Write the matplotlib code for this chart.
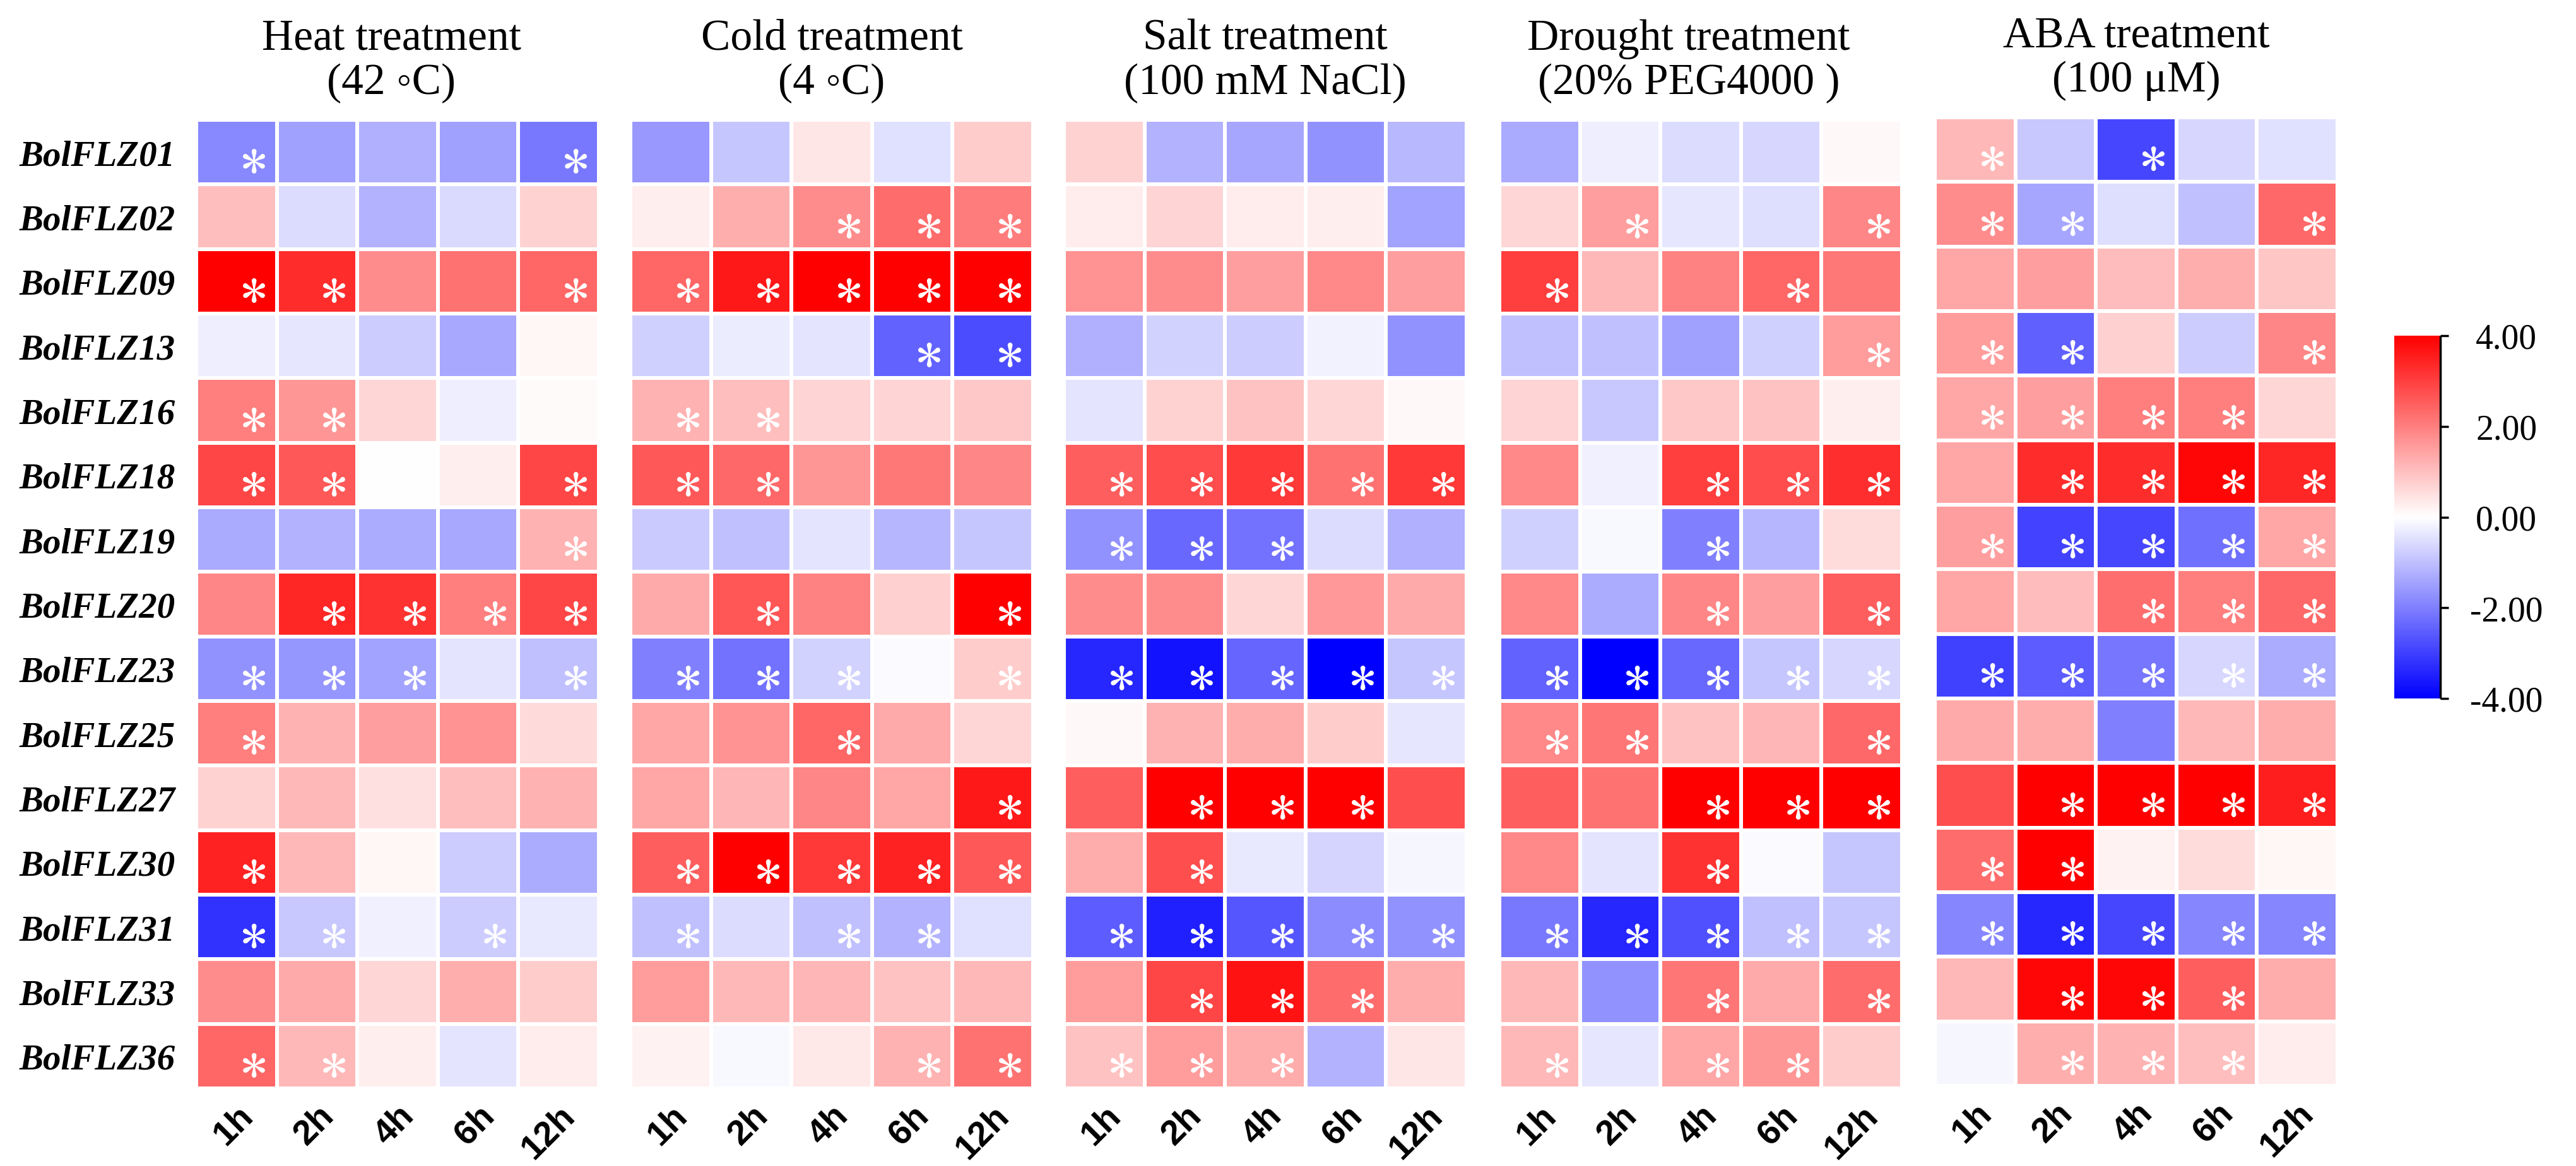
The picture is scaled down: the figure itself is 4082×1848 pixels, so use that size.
import numpy as np
import matplotlib.pyplot as plt
from matplotlib.colors import Normalize
from matplotlib.cm import ScalarMappable
from matplotlib.transforms import ScaledTranslation

plt.rcParams['mathtext.fontset'] = 'stix'

genes = ['BolFLZ01', 'BolFLZ02', 'BolFLZ09', 'BolFLZ13', 'BolFLZ16', 'BolFLZ18',
         'BolFLZ19', 'BolFLZ20', 'BolFLZ23', 'BolFLZ25', 'BolFLZ27', 'BolFLZ30',
         'BolFLZ31', 'BolFLZ33', 'BolFLZ36']
times = ['1h', '2h', '4h', '6h', '12h']
titles = ['Heat treatment\n(42 \u25e6C)', 'Cold treatment\n(4 \u25e6C)',
          'Salt treatment\n(100 mM NaCl)', 'Drought treatment\n(20% PEG4000 )',
          'ABA treatment\n(100 \u03bcM)']

# log2 fold change, rows = genes, cols = times
heat = [[-1.87, -1.5, -1.25, -1.5, -2.1],
        [1.0, -0.55, -1.2, -0.58, 0.7],
        [4.0, 3.3, 1.8, 2.2, 2.4],
        [-0.27, -0.4, -0.8, -1.35, 0.15],
        [2.0, 1.65, 0.63, -0.27, 0.08],
        [2.9, 2.6, 0.03, 0.25, 2.9],
        [-1.33, -1.2, -1.3, -1.35, 1.2],
        [1.9, 3.4, 3.2, 2.0, 2.9],
        [-1.7, -1.65, -1.45, -0.42, -1.0],
        [2.0, 1.2, 1.5, 1.7, 0.58],
        [0.7, 1.1, 0.47, 1.0, 1.2],
        [3.45, 1.1, 0.13, -0.8, -1.3],
        [-3.2, -0.86, -0.23, -0.8, -0.36],
        [1.8, 1.33, 0.63, 1.25, 0.8],
        [2.4, 1.1, 0.27, -0.42, 0.3]]
heat_sig = ['10001', '00000', '11001', '00000', '11000', '11001', '00001', '01111',
            '11101', '10000', '00000', '10000', '11010', '00000', '11000']

cold = [[-1.6, -0.9, 0.4, -0.47, 0.8],
        [0.27, 1.25, 1.8, 2.3, 2.05],
        [2.4, 3.6, 4.0, 4.0, 4.0],
        [-0.75, -0.3, -0.42, -2.45, -2.8],
        [1.2, 1.0, 0.68, 0.68, 0.86],
        [2.6, 2.35, 1.65, 2.1, 1.9],
        [-0.83, -1.0, -0.42, -1.15, -0.9],
        [1.33, 2.65, 1.95, 0.74, 4.0],
        [-2.0, -2.2, -0.7, -0.08, 0.8],
        [1.4, 1.7, 2.4, 1.33, 0.63],
        [1.4, 1.15, 1.9, 1.4, 3.6],
        [2.5, 4.0, 3.1, 3.45, 2.6],
        [-1.0, -0.55, -1.0, -1.2, -0.47],
        [1.55, 1.1, 1.15, 0.95, 1.1],
        [0.2, -0.1, 0.36, 1.2, 2.2]]
cold_sig = ['00000', '00111', '11111', '00011', '11000', '11000', '00000', '01001',
            '11101', '00100', '00001', '11111', '10110', '00000', '00011']

salt = [[0.7, -1.2, -1.4, -1.7, -1.1],
        [0.3, 0.68, 0.3, 0.27, -1.45],
        [1.7, 1.8, 1.5, 1.85, 1.5],
        [-1.25, -0.7, -0.8, -0.2, -1.7],
        [-0.42, 0.7, 0.95, 0.63, 0.1],
        [2.5, 2.8, 3.1, 2.2, 3.1],
        [-1.7, -2.35, -2.2, -0.55, -1.25],
        [1.8, 1.8, 0.63, 1.6, 1.33],
        [-3.4, -3.7, -2.4, -4.0, -0.9],
        [0.1, 1.2, 1.3, 0.8, -0.4],
        [2.5, 4.0, 4.0, 4.0, 2.75],
        [1.3, 2.75, -0.36, -0.67, -0.15],
        [-2.55, -3.5, -2.65, -1.8, -1.7],
        [1.55, 2.9, 3.7, 2.3, 1.3],
        [0.95, 1.55, 1.3, -1.2, 0.4]]
salt_sig = ['00000', '00000', '00000', '00000', '00000', '11111', '11100', '00000',
            '11111', '00000', '01110', '01000', '11111', '01110', '11100']

drought = [[-1.33, -0.27, -0.55, -0.63, 0.1],
           [0.63, 1.5, -0.4, -0.52, 1.9],
           [3.0, 1.1, 1.95, 2.4, 2.1],
           [-1.0, -1.0, -1.5, -0.75, 1.55],
           [0.68, -0.86, 0.86, 0.95, 0.27],
           [1.85, -0.23, 3.0, 2.8, 3.25],
           [-0.75, -0.1, -2.0, -1.15, 0.55],
           [1.85, -1.3, 1.9, 1.5, 2.5],
           [-2.45, -4.0, -2.35, -0.9, -0.63],
           [1.85, 2.15, 0.95, 1.15, 2.35],
           [2.5, 2.2, 4.0, 4.0, 4.0],
           [1.85, -0.42, 3.2, -0.08, -0.9],
           [-2.1, -3.4, -2.75, -1.0, -0.9],
           [1.1, -1.7, 2.15, 1.33, 2.3],
           [1.1, -0.4, 1.4, 1.65, 0.8]]
drought_sig = ['00000', '01001', '10010', '00001', '00000', '00111', '00100', '00101',
               '11111', '11001', '00111', '00100', '11111', '00101', '10110']

aba = [[1.1, -0.86, -2.9, -0.63, -0.47],
       [1.8, -1.4, -0.52, -1.0, 2.35],
       [1.4, 1.5, 1.05, 1.25, 0.9],
       [1.55, -2.5, 0.74, -0.8, 1.9],
       [1.4, 1.5, 2.0, 2.0, 0.63],
       [1.4, 3.3, 3.3, 3.9, 3.4],
       [1.5, -2.95, -2.9, -2.25, 1.4],
       [1.4, 1.05, 2.25, 2.0, 2.35],
       [-3.0, -2.55, -2.15, -0.63, -1.3],
       [1.33, 1.3, -2.0, 1.1, 1.3],
       [2.75, 4.0, 4.0, 4.0, 3.5],
       [2.3, 4.0, 0.2, 0.55, 0.15],
       [-1.9, -3.4, -2.9, -1.9, -1.9],
       [1.1, 3.9, 3.9, 2.5, 1.3],
       [-0.15, 1.25, 1.2, 1.0, 0.3]]
aba_sig = ['10100', '11001', '00000', '11001', '11110', '01111', '11111', '00111',
           '11111', '00000', '01111', '11000', '11111', '01110', '01110']

panels = [heat, cold, salt, drought, aba]
sigs = [heat_sig, cold_sig, salt_sig, drought_sig, aba_sig]

W, H = 4082, 1849
fig = plt.figure(figsize=(W / 100, H / 100), dpi=100)
lefts = [311, 999, 1686, 2376, 3066]
tops = [191, 191, 191, 191, 187]
title_x = [0.485, 0.5, 0.5, 0.47, 0.5]

for k in range(5):
    ax = fig.add_axes([lefts[k] / W, 1 - (tops[k] + 1535) / H, 638 / W, 1535 / H])
    vals = np.array(panels[k])
    ax.pcolormesh(vals, cmap='bwr', vmin=-4, vmax=4, edgecolors='white', linewidth=3)
    ax.set_xlim(0, 5)
    ax.set_ylim(15, 0)
    for i, row in enumerate(sigs[k]):
        for j, c in enumerate(row):
            if c == '1':
                ax.scatter(j + 0.71, i + 0.64, marker=r'$\ast$', s=750, color='white',
                           linewidths=0.8, edgecolors='white', zorder=3)
    ax.set_title(titles[k], fontsize=50, family=['Liberation Serif', 'DejaVu Serif'],
                 pad=30, linespacing=1.15, x=title_x[k])
    ax.set_xticks(np.arange(5) + 0.5)
    ax.set_xticklabels(times, rotation=45, ha='right', va='top', rotation_mode='anchor',
                       fontsize=40, fontweight='bold', family='Liberation Sans')
    for lab in ax.get_xticklabels():
        lab.set_transform(lab.get_transform() + ScaledTranslation(0.27, 0, fig.dpi_scale_trans))
    ax.tick_params(axis='x', length=0, pad=12)
    if k == 0:
        ax.set_yticks(np.arange(15) + 0.5)
        ax.set_yticklabels(genes, fontsize=41, fontweight='bold', fontstyle='italic',
                           family='Liberation Serif')
        ax.tick_params(axis='y', length=0, pad=24)
    else:
        ax.set_yticks([])
    for s in ax.spines.values():
        s.set_visible(False)

cax = fig.add_axes([3794 / W, 1 - 1108 / H, 73 / W, 575 / H])
sm = ScalarMappable(norm=Normalize(-4, 4), cmap='bwr')
cb = fig.colorbar(sm, cax=cax, ticks=[-4, -2, 0, 2, 4], format='%.2f')
cb.outline.set_visible(False)
cax.plot([1, 1], [0, 1], transform=cax.transAxes, color='black', lw=2.5,
         clip_on=False, solid_capstyle='butt')
cax.tick_params(length=9.5, width=2.5, labelsize=40, pad=66)
for lab in cax.get_yticklabels():
    lab.set_family('Liberation Serif')
    lab.set_ha('center')

fig.savefig('out.png', dpi=100)
